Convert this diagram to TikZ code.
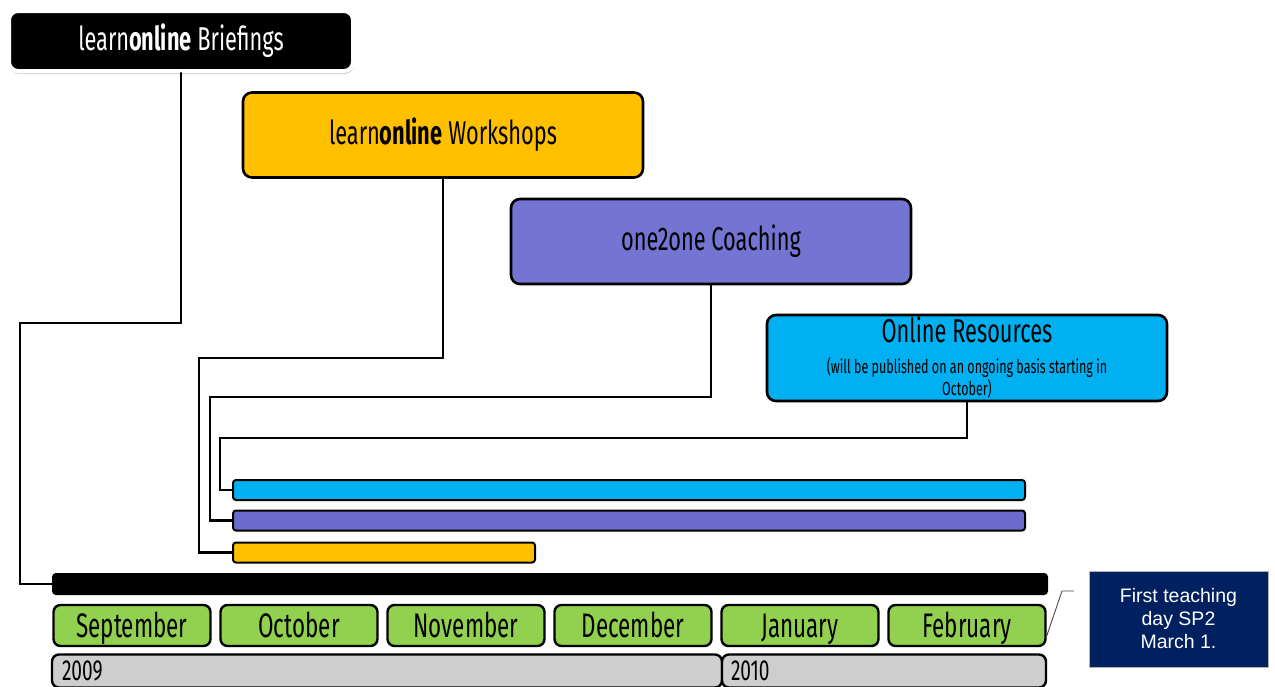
\documentclass[tikz,border=0pt]{standalone}
\usepackage{fontspec}
\newfontfamily\agency[FakeStretch=0.66]{Fira Sans}
\newfontfamily\arialish{Liberation Sans}
\usetikzlibrary{shadows}

\definecolor{wsyellow}{HTML}{FFC000}
\definecolor{coachpurple}{HTML}{7474D2}
\definecolor{barpurple}{HTML}{6B6BCC}
\definecolor{rescyan}{HTML}{00B0F0}
\definecolor{monthgreen}{HTML}{92D050}
\definecolor{yeargray}{HTML}{CECECE}
\definecolor{notenavy}{HTML}{002060}

\begin{document}
\begin{tikzpicture}[x=1pt, y=-1pt]
    % Define display style
    \tikzstyle{programme}=[rounded corners=9pt, draw=black, line width=2.6pt, font=\agency\fontsize{33}{36}\selectfont]
    \tikzstyle{bar}=[rounded corners=3pt, draw=black, line width=2pt, minimum height=20pt, inner sep=0pt]
    \tikzstyle{wire}=[line width=2.5pt, line cap=round, line join=miter]
    \tikzstyle{month}=[rounded corners=7pt, draw=black, line width=2.4pt, fill=monthgreen, minimum width=157pt, minimum height=41pt, inner sep=0pt,
                       text height=27pt, text depth=4pt, font=\agency\fontsize{34}{36}\selectfont]
    \tikzstyle{year}=[rounded corners=7pt, draw=black, line width=2.4pt, fill=yeargray, minimum height=33pt, inner sep=0pt, font=\agency\fontsize{29}{30}\selectfont]

    % Fix the frame of the picture
    \clip (0,0) rectangle (1275,686);

    % Define the bends of the connectors
    \coordinate (bk) at (20,323);
    \coordinate (wk) at (199,358);
    \coordinate (ck) at (210,397);
    \coordinate (rk) at (220,438);

    % Draw the programme boxes
    \node[programme, fill=black, text=white, draw=white, line width=4pt, minimum width=344pt, minimum height=60pt,
          drop shadow={opacity=0.35, shadow xshift=1pt, shadow yshift=-3pt}] (brief) at (181,41) {learn\textbf{online} Briefings};
    \node[programme, fill=wsyellow, minimum width=400pt, minimum height=85pt] (work) at (443,135) {learn\textbf{online} Workshops};
    \node[programme, fill=coachpurple, minimum width=400pt, minimum height=85pt] (coach) at (711,241.5) {one2one Coaching};
    \node[programme, fill=rescyan, minimum width=400pt, minimum height=86pt, align=center, inner sep=1pt,
          font=\agency\fontsize{19}{22}\selectfont] (res) at (967,358)
        {{\fontsize{33}{30}\selectfont Online Resources}\\[9pt](will be published on an ongoing basis starting in\\October)};

    % Draw the timeline bars
    \node[bar, fill=rescyan, minimum width=792pt, anchor=west] (cyanbar) at (232,490) {};
    \node[bar, fill=barpurple, minimum width=792pt, anchor=west] (purplebar) at (232,520.5) {};
    \node[bar, fill=wsyellow, minimum width=302pt, anchor=west] (yellowbar) at (232,552.5) {};
    \node[bar, fill=black, minimum width=994pt, anchor=west] (blackbar) at (52,584) {};

    % Draw the connectors
    \draw[wire] (brief.south) |- (bk) |- (blackbar.west);
    \draw[wire] (work.south) |- (wk) |- (yellowbar.west);
    \draw[wire] (coach.south) |- (ck) |- (purplebar.west);
    \draw[wire] (res.south) |- (rk) |- (cyanbar.west);

    % Draw the months
    \foreach \mname [count=\i] in {September, October, November, December, January, February}
        \node[month] (m\i) at ({132+(\i-1)*167}, 625.5) {\mname};

    % Draw the years
    \node[year, minimum width=670pt, text width=650pt, align=left] (y2009) at (387,671) {2009};
    \node[year, minimum width=324pt, text width=306pt, align=left] (y2010) at (884,671) {2010};

    % Draw the note with its pointer
    \node[fill=notenavy, draw=gray!60, line width=0.6pt, minimum width=179pt, minimum height=96pt, align=center,
          text=white, font=\arialish\fontsize{19.5}{23}\selectfont] (note) at (1178.5,619) {First teaching\\day SP2\\March 1.};
    \coordinate (cl) at (1074,591);
    \coordinate (tip) at (1046,638);
    \draw[black!70, line width=0.9pt] (cl) -- ++(-12,0) -- (tip);
\end{tikzpicture}
\end{document}
